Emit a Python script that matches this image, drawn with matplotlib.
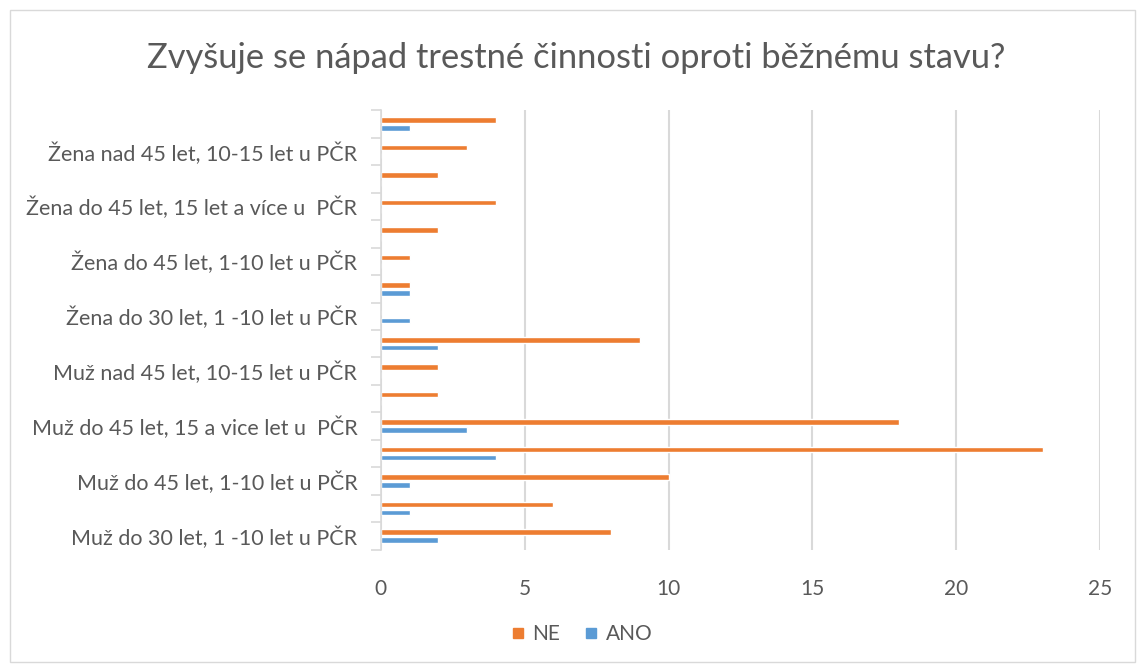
import numpy as np
import matplotlib
matplotlib.use('Agg')
from matplotlib import pyplot as plt
from matplotlib.lines import Line2D
from matplotlib.patches import Rectangle

# data, from bottom row to top row
ne = [8, 6, 10, 23, 18, 2, 2, 9, 0, 1, 1, 2, 4, 2, 3, 4]
ano = [2, 1, 1, 4, 3, 0, 0, 2, 1, 1, 0, 0, 0, 0, 0, 1]

# only every other category gets a label (like in the excel chart)
popisky = [
    'Muž do 30 let, 1 -10 let u PČR',
    'Muž do 45 let, 1-10 let u PČR',
    'Muž do 45 let, 15 a vice let u  PČR',
    'Muž nad 45 let, 10-15 let u PČR',
    'Žena do 30 let, 1 -10 let u PČR',
    'Žena do 45 let, 1-10 let u PČR',
    'Žena do 45 let, 15 let a více u  PČR',
    'Žena nad 45 let, 10-15 let u PČR',
]
xticks = [0, 5, 10, 15, 20, 25]

oranzova = '#ED7D31'
modra = '#5B9BD5'
seda = '#595959'

plt.rcParams['font.family'] = ['Lato', 'DejaVu Sans']

fig = plt.figure(figsize=(11.37, 6.64), dpi=100)
ax = fig.add_axes([0.335, 0.172, 0.6325, 0.662])

y = np.arange(len(ne))
h = 0.2
ax.barh(y + 0.145, ne, height=h, color=oranzova, edgecolor='white', linewidth=1, zorder=3)
ax.barh(y - 0.145, ano, height=h, color=modra, edgecolor='white', linewidth=1, zorder=3)

ax.set_xlim(0, 25)
ax.set_ylim(-0.5, len(ne) - 0.5)
ax.set_xticks(xticks)
ax.set_xticklabels([str(t) for t in xticks], fontsize=15, color=seda)
ax.tick_params(axis='x', length=0, pad=21)

ax.set_yticks(y[::2])
ax.set_yticklabels(popisky, fontsize=15.5, color=seda)
ax.set_yticks(np.arange(-0.5, len(ne)), minor=True)
ax.tick_params(axis='y', which='major', length=0, pad=17)
ax.tick_params(axis='y', which='minor', length=7, width=1.2, color='#d9d9d9')

ax.grid(axis='x', color='#d9d9d9', linewidth=1.5, zorder=0)
for s in ['top', 'right', 'bottom']:
    ax.spines[s].set_visible(False)
ax.spines['left'].set_color('#d9d9d9')
ax.spines['left'].set_linewidth(1.2)
ax.spines['left'].set_zorder(4)

fig.text(0.507, 0.912, 'Zvyšuje se nápad trestné činnosti oproti běžnému stavu?',
         ha='center', va='center', fontsize=24.8, color=seda)

znacky = [Line2D([], [], marker='s', linestyle='none', color=oranzova, markersize=6.5),
          Line2D([], [], marker='s', linestyle='none', color=modra, markersize=6.5)]
fig.legend(znacky, ['NE', 'ANO'], loc='center', bbox_to_anchor=(0.51, 0.045), ncol=2,
           frameon=False, fontsize=15, labelcolor=seda, handletextpad=0.2,
           columnspacing=1.0, handlelength=1)

# ramecek kolem grafu
fig.patches.append(Rectangle((0.009, 0.003), 0.989, 0.982, transform=fig.transFigure,
                             fill=False, edgecolor='#d9d9d9', linewidth=1))

fig.savefig('out.png', dpi=100)
